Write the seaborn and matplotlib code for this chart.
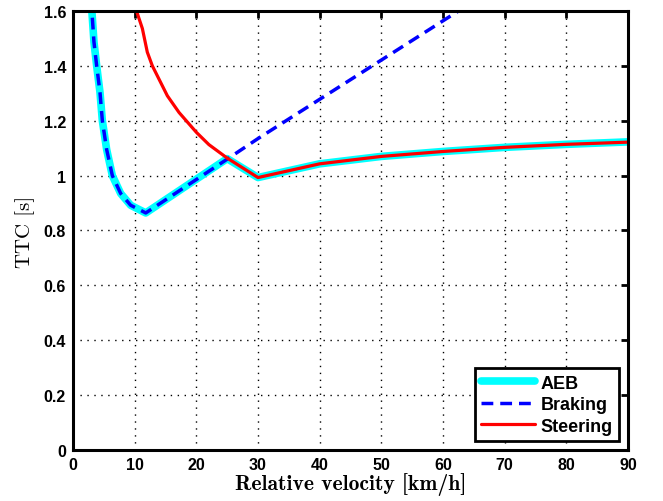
import numpy as np
import pandas as pd
import seaborn as sns
import matplotlib.pyplot as plt

# Braking: TTC needed to stop in time
brake_v = [2.9, 3.03, 3.4, 3.84, 4.38, 4.76, 5.46, 6.38, 7.73, 9.35, 11.8, 25.0, 30.0, 62.5]
brake_ttc = [1.65, 1.61, 1.487, 1.40, 1.303, 1.20, 1.095, 1.0, 0.935, 0.892, 0.864, 1.06, 1.135, 1.6]

# Steering: TTC needed to evade
steer_v = [10.3, 11.25, 12.05, 12.87, 13.94, 15.3, 17.2, 20.0, 22.04, 25.0, 30.0,
           40.0, 50.0, 60.0, 70.0, 80.0, 90.0]
steer_ttc = [1.6, 1.536, 1.45, 1.40, 1.352, 1.291, 1.23, 1.158, 1.113, 1.064, 0.993,
             1.043, 1.07, 1.088, 1.103, 1.114, 1.122]

# AEB: the lower of the two
aeb_v = [2.9, 3.03, 3.4, 3.84, 4.38, 4.76, 5.46, 6.38, 7.73, 9.35, 11.8, 25.0, 30.0,
         40.0, 50.0, 60.0, 70.0, 80.0, 90.0]
aeb_ttc = [1.65, 1.61, 1.487, 1.40, 1.303, 1.20, 1.095, 1.0, 0.935, 0.892, 0.864, 1.062, 0.993,
           1.043, 1.07, 1.088, 1.103, 1.114, 1.123]

sns.set_style('white')
plt.rcParams['font.family'] = ['Liberation Sans', 'DejaVu Sans']
plt.rcParams['font.weight'] = 'bold'
plt.rcParams['text.color'] = 'black'
plt.rcParams['axes.labelcolor'] = 'black'
plt.rcParams['xtick.color'] = 'black'
plt.rcParams['ytick.color'] = 'black'

fig = plt.figure(figsize=(6.63, 5.02), dpi=100)
ax = fig.add_axes([0.1101, 0.1016, 0.8371, 0.8745])

df_aeb = pd.DataFrame({'v': aeb_v, 'ttc': aeb_ttc})
df_brake = pd.DataFrame({'v': brake_v, 'ttc': brake_ttc})
df_steer = pd.DataFrame({'v': steer_v, 'ttc': steer_ttc})

sns.lineplot(data=df_aeb, x='v', y='ttc', ax=ax, color='#00ffff', linewidth=5.5,
             label='AEB', sort=False, solid_joinstyle='round')
sns.lineplot(data=df_brake, x='v', y='ttc', ax=ax, color='#0000ff', linewidth=2.5,
             label='Braking', sort=False)
ax.lines[-1].set_dashes([3.4, 2.0])
sns.lineplot(data=df_steer, x='v', y='ttc', ax=ax, color='#ff0000', linewidth=2.3,
             label='Steering', sort=False, solid_joinstyle='round')

ax.set_xlim(0, 90)
ax.set_ylim(0, 1.6)
ax.set_xticks(np.arange(0, 91, 10))
ax.set_yticks([0, 0.2, 0.4, 0.6, 0.8, 1, 1.2, 1.4, 1.6])
ax.set_yticklabels(['0', '0.2', '0.4', '0.6', '0.8', '1', '1.2', '1.4', '1.6'])
ax.tick_params(direction='in', length=5, width=2, top=True, right=True,
               labelsize=11.5, pad=5, colors='black')
for lab in ax.get_xticklabels() + ax.get_yticklabels():
    lab.set_fontweight('bold')
ax.grid(True, linestyle=(0, (1, 4)), color='black', linewidth=1.0)
for sp in ax.spines.values():
    sp.set_linewidth(2.2)
    sp.set_color('black')

ax.set_xlabel('Relative velocity [km/h]', family='cmb10', fontsize=15.5, labelpad=0)
ax.set_ylabel('TTC [s]', family='cmr10', fontsize=15, labelpad=6)

leg = ax.legend(loc='lower right', fancybox=False, framealpha=1, edgecolor='black',
                fontsize=13, handlelength=3.0, borderaxespad=0.5, labelspacing=0.25,
                handletextpad=0.3, borderpad=0.35)
leg.get_frame().set_linewidth(2)
for t in leg.get_texts():
    t.set_fontweight('bold')

fig.savefig('out.png', dpi=100)
